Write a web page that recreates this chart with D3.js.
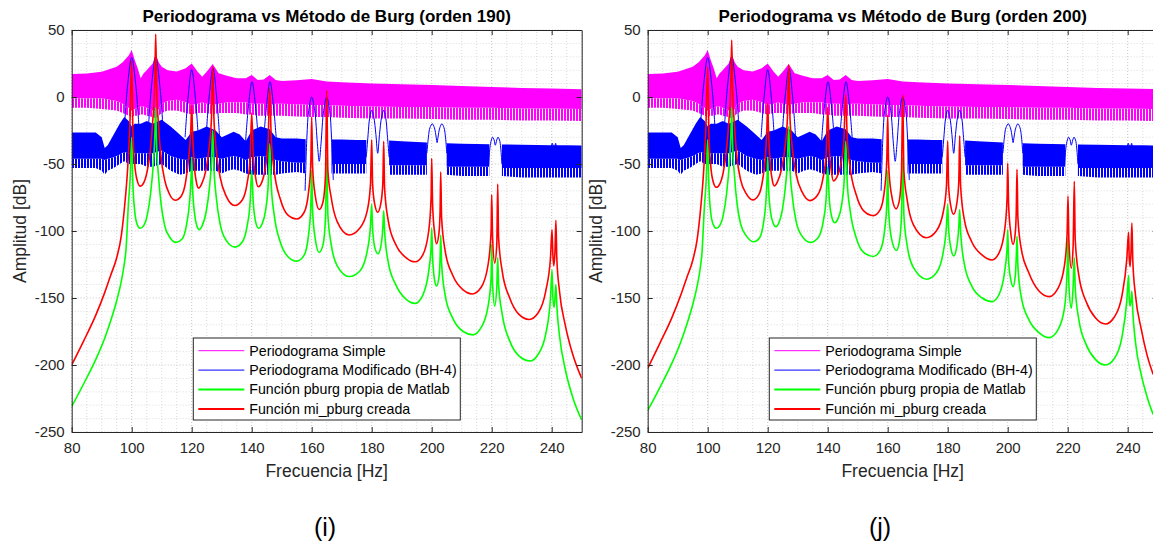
<!DOCTYPE html>
<html>
<head>
<meta charset="utf-8">
<script src="https://cdn.jsdelivr.net/npm/d3@7"></script>
<style>
  body { margin: 0; background: #fff; }
  svg { display: block; }
  text { font-family: "Liberation Sans", Arial, Helvetica, sans-serif; }
</style>
</head>
<body>
<svg id="chart" width="1153" height="544"></svg>
<script>
// ---- tick values ----
const xTicks = [80, 100, 120, 140, 160, 180, 200, 220, 240];
const yTicks = [50, 0, -50, -100, -150, -200, -250];

// ---- periodograma simple (envelope of the dense trace) ----
const magFreq = [80,85,90,95,97,99,100,101,102,103,104,105,107,108,109,110,112,115,118,120,122,123.5,125,127,129,132,135,138,140,142,144,146,148,150,155,160,165,170,180,190,200,210,220,230,240,250];
const magTop = [17.2,17.5,18.9,22.6,26,31,35,27.6,21.4,14,17.7,20,25,32,26,22.6,20,19,21.4,25,18.9,15.2,18.9,24.6,17.7,15.7,14,14,16.4,12.7,13,16.4,12.7,12,12.5,13.5,11.5,11,10,9.5,9,8.2,7.4,6.8,6.4,5.8];
const magSolid = [-1,-1,-1,-3,-5,-8,-10,-9,-8,-7,-7,-8,-10,-11,-9,-5,-3,-2,-4,-6,-5,-4,-5,-6,-5,-4,-4,-4,-5,-5,-5,-6,-5,-5,-5.5,-6,-6,-6.5,-7,-7.5,-7.5,-8,-8,-8.5,-8.5,-9];
const magFringe = [-8,-8,-9,-10,-12,-14,-15,-14,-14,-13,-13,-14,-15,-16,-14,-12,-10,-10,-12,-13,-12,-12,-12,-13,-12,-12,-12,-13,-13,-14,-14,-14,-14,-14,-14.5,-15,-15,-15.5,-16,-16,-16.5,-17,-17,-17.5,-17.5,-18];

// ---- periodograma modificado (BH-4): noise band envelope + main lobes ----
const blueFreq = [80,88,90,91,92,94,96,97.5,99,100,101,103,105,107,110,113,116,118,120,122,125,128,130,132,134,136,138,140,143,146,148,150,155,158,158.1,166.6,170,175,178.2,178.3,185.8,190,195,198.4,198.5,205,210,215,219.2,219.3,223.4,230,235,240,245,250];
const blueTop = [-26.5,-26.5,-30,-38,-36,-28,-20,-15,-18,-22,-20,-20,-18,-20,-17,-22,-28,-32,-26,-25,-22,-25,-30,-28,-26,-28,-33,-25,-22,-24,-30,-31,-31,-31.5,null,-31.7,-31.8,-32,-32,null,-32.5,-33,-33.5,-34,null,-34.5,-34.8,-35,-35.2,null,-35.5,-35.6,-35.8,-36,-36,-36.2];
const blueSolid = [-46,-46,-46,-47,-46,-45,-43,-41,-42,-42,-42,-42,-42,-42,-40,-44,-46,-47,-45,-46,-45,-45,-46,-45,-44,-45,-47,-45,-44,-45,-47,-48,-49,-49,null,-50,-50,-50,-50,null,-51,-51,-51,-51,null,-52,-52,-52,-52,null,-53,-53,-53,-53,-53,-53];
const blueFringe = [-53,-53,-55,-58,-55,-53,-50,-48,-50,-50,-50,-50,-52,-52,-50,-55,-58,-57,-55,-55,-55,-55,-57,-55,-54,-55,-57,-58,-58,-58,-58,-57,-56,-57,null,-57,-57,-57,-57,null,-58,-58,-58,-58,null,-58,-59,-59,-59,null,-59,-60,-60,-60,-60,-60];
const blueLobes = [
  [[97.6,-22],[98.6,8],[100,29.5],[101.4,8],[102.4,-22]],
  [[105.6,-22],[106.6,8],[108,30],[109.4,8],[110.4,-22]],
  [[117.8,-30],[118.8,0],[120,20.5],[121.2,0],[122.2,-30]],
  [[124.8,-30],[125.8,0],[127.1,21.5],[128.3,0],[129.3,-30]],
  [[137.8,-38],[138.8,-10],[140.1,11.5],[141.4,-10],[142.4,-38]],
  [[143.8,-38],[144.8,-10],[146.1,11.5],[147.4,-10],[148.4,-38]],
  [[157.8,-70],[158.4,-30],[159,-10],[160,0],[161,-10],[161.9,-35],[162.5,-48],[163.1,-35],[164,-10],[165,0],[166,-10],[166.6,-30],[167.2,-62]],
  [[178.2,-45],[178.8,-28],[179.3,-16],[180,-10],[180.7,-15],[181.4,-28],[182,-42],[182.6,-28],[183.3,-15],[184,-10],[184.7,-16],[185.2,-28],[185.8,-45]],
  [[198.4,-42],[198.9,-30],[199.4,-23],[200.2,-20],[200.9,-23],[201.5,-30],[201.8,-34],[202.1,-30],[202.7,-23],[203.4,-20],[204.1,-23],[204.6,-30],[205,-42]],
  [[219,-50],[219.4,-38],[219.9,-32],[220.3,-30],[220.8,-32],[221.2,-36],[221.7,-32],[222.1,-30],[222.6,-32],[223,-38],[223.4,-50]],
  [[239.5,-45],[239.8,-38],[240.2,-34.5],[240.6,-38],[240.8,-40],[241,-38],[241.3,-34.5],[241.6,-38],[241.9,-45]]
];

// ---- Burg orden 190 ----
const green190 = [[80,-231],[84,-214],[88,-196],[91,-180],[93,-167],[95,-152],[96.5,-138],[97.5,-125],[98.1,-114],[98.9,-80],[99.5,-60],[100,-30],
  [100.4,-65],[101,-85],[101.8,-95],[102.8,-98],[104,-96],[105.2,-88],[106.3,-72],[107.2,-50],[107.7,-30],[108,-8],
  [108.3,-35],[108.9,-58],[109.8,-80],[111,-96],[112.8,-105],[114.8,-108.5],[116.8,-106],[118.3,-95],[119.3,-78],[119.8,-60],[120,-45],
  [120.3,-68],[120.9,-86],[121.7,-96],[122.5,-99],[123.5,-96],[124.8,-86],[125.9,-68],[126.6,-48],[127,-25],
  [127.4,-52],[128.2,-75],[129.5,-95],[131.5,-107],[134.4,-112],[136.9,-108],[138.5,-96],[139.5,-78],[140,-55],
  [140.5,-78],[141.3,-93],[142.3,-98],[143.4,-95],[144.6,-85],[145.5,-65],[146,-35],
  [146.5,-65],[147.5,-88],[149.5,-108],[152,-119],[155,-122.5],[157.5,-118],[159,-102],[159.7,-82],[160,-55],
  [160.3,-85],[161.2,-106],[162.5,-116],[163.8,-110],[164.6,-90],[165,-45],
  [165.4,-88],[166.5,-110],[168.5,-126],[172.5,-134],[176,-130],[178.5,-115],[179.6,-96],[180,-80],
  [180.3,-98],[181,-112],[182.1,-117],[183,-112],[183.7,-98],[184,-85],
  [184.3,-100],[185.5,-123],[188,-140],[191.5,-151],[194.5,-154],[197,-148],[199,-130],[199.8,-112],[200,-98],
  [200.3,-120],[201,-137],[201.6,-141],[202.4,-135],[202.8,-120],[203,-103],
  [203.3,-124],[204.5,-148],[207,-165],[210.5,-175],[213.8,-177.5],[216.5,-172],[218.8,-156],[219.8,-135],[220,-110],
  [220.3,-140],[221,-156],[221.7,-142],[222,-120],
  [222.3,-140],[223.5,-162],[226,-182],[229,-193],[232.8,-197],[235.5,-192],[238,-177],[239.6,-150],[240.1,-129],
  [240.4,-150],[240.8,-157],[241.1,-150],[241.4,-140],
  [241.7,-155],[242.6,-178],[244.5,-203],[247,-224],[250,-241]];
const red190 = [[80,-200],[84,-182],[88,-163],[91,-146],[93,-133],[95,-120],[96.5,-104],[97.7,-80],[98.6,-55],[99.4,-20],[100,27],
  [100.4,-25],[101,-50],[101.8,-62],[102.8,-66.5],[104,-64],[105.2,-55],[106.2,-40],[107.1,-15],[107.7,10],[108,47],
  [108.3,10],[108.9,-20],[109.8,-45],[111,-62],[112.5,-72],[114.5,-77],[116.5,-74],[118,-63],[119,-45],[119.7,-25],[120,-6],
  [120.3,-28],[120.9,-52],[121.7,-65],[122.3,-68],[123.3,-65],[124.7,-55],[125.8,-38],[126.6,-15],[127,22.5],
  [127.4,-15],[128.2,-40],[129.5,-60],[131.5,-74],[134.3,-81],[136.8,-77],[138.5,-64],[139.5,-45],[140,-12],
  [140.5,-42],[141.3,-60],[142.2,-67],[143.3,-64],[144.6,-52],[145.5,-32],[146,7],
  [146.5,-30],[147.5,-55],[149.5,-76],[152,-88],[155,-91],[157.5,-86],[159,-70],[159.7,-50],[160,-15],
  [160.3,-52],[161.2,-74],[162.5,-84],[163.8,-78],[164.6,-58],[165,5],
  [165.4,-55],[166.5,-75],[168.5,-93],[172.5,-103],[176,-98],[178.5,-85],[179.6,-65],[180,-32],
  [180.3,-65],[181,-80],[182,-86],[183,-80],[183.7,-65],[184,-33],
  [184.3,-68],[185.5,-92],[188,-110],[191.5,-120],[194.5,-123],[197,-118],[199,-100],[199.8,-75],[200,-46],
  [200.3,-80],[201,-102],[201.6,-109.5],[202.4,-102],[202.8,-85],[203,-56],
  [203.3,-90],[204.5,-115],[207,-133],[210.5,-144],[213.5,-147],[216.5,-142],[218.8,-125],[219.8,-100],[220,-73],
  [220.3,-105],[221,-124],[221.7,-110],[222,-65],
  [222.3,-105],[223.5,-130],[226,-150],[229,-162],[232.5,-166],[235.5,-161],[238,-145],[239.6,-120],[240.1,-99],
  [240.4,-118],[240.7,-126],[241.1,-115],[241.4,-92],
  [241.7,-120],[242.6,-145],[244.5,-170],[247,-192],[250,-210]];

// ---- Burg orden 200 ----
const green200 = [[80,-234],[84,-217],[88,-199],[91,-183],[93,-170],[95,-155],[96.5,-141],[97.5,-128],[98.1,-116],[98.9,-82],[99.5,-62],[100,-32],
  [100.4,-66],[101,-86],[101.8,-95],[102.9,-98],[104,-96],[105.2,-88],[106.3,-72],[107.2,-50],[107.7,-30],[108,-8],
  [108.3,-35],[108.9,-58],[109.8,-80],[111,-95],[113,-104],[115.3,-108],[117.3,-105],[118.6,-94],[119.4,-78],[119.8,-60],[120,-45],
  [120.3,-68],[120.9,-85],[121.8,-94],[122.7,-96.8],[123.7,-94],[124.9,-84],[125.9,-67],[126.6,-47],[127,-22],
  [127.4,-52],[128.2,-74],[129.5,-93],[131.5,-104],[134.2,-108.5],[136.8,-105],[138.5,-93],[139.5,-75],[140,-52],
  [140.5,-75],[141.3,-89],[142.3,-93.8],[143.4,-91],[144.6,-81],[145.5,-62],[146,-33],
  [146.5,-63],[147.5,-85],[149.5,-105],[152,-116],[155.2,-119],[157.6,-114],[159,-99],[159.7,-80],[160,-55],
  [160.3,-84],[161.2,-105],[162.9,-114.6],[163.9,-108],[164.6,-88],[165,-45],
  [165.4,-88],[166.5,-111],[168.5,-127],[173,-136],[176.3,-131],[178.5,-116],[179.6,-96],[180,-80],
  [180.3,-98],[181,-112],[182,-118.6],[183,-112],[183.7,-97],[184,-84],
  [184.3,-100],[185.5,-124],[188,-141],[191.5,-150],[194.8,-152.7],[197.2,-147],[199,-130],[199.8,-112],[200,-99],
  [200.3,-122],[201,-136],[201.8,-141.5],[202.5,-134],[202.85,-120],[203.1,-104],
  [203.4,-126],[204.5,-149],[207,-166],[210.5,-176],[213.8,-179.6],[216.7,-174],[218.9,-158],[219.8,-130],[220.1,-105],
  [220.4,-140],[221.2,-157.6],[221.8,-142],[222.2,-120],
  [222.5,-142],[223.7,-166],[226.2,-185],[229.3,-196],[232.6,-200],[235.6,-195],[238.1,-179],[239.7,-152],[240.3,-133],
  [240.5,-150],[240.8,-156],[241.1,-152],[241.4,-145],
  [241.7,-160],[242.6,-183],[244.5,-207],[246.5,-224],[248.5,-237]];
const red200 = [[80,-202.5],[84,-184],[88,-165],[91,-148],[93,-135],[95,-122],[96.5,-106],[97.7,-82],[98.6,-57],[99.4,-22],[100,22.6],
  [100.4,-27],[101,-51],[101.8,-63],[102.9,-67.4],[104,-65],[105.2,-56],[106.2,-41],[107.1,-17],[107.7,8],[108,42.5],
  [108.3,8],[108.9,-21],[109.8,-46],[111,-62],[112.8,-72],[115,-76.8],[117,-73],[118.3,-62],[119.2,-45],[119.7,-25],[120,-4.7],
  [120.3,-27],[120.9,-51],[121.6,-63],[122.2,-66.4],[123.2,-63.5],[124.6,-54],[125.8,-37],[126.6,-14],[127,24],
  [127.4,-14],[128.2,-38],[129.5,-58],[131.5,-71],[134.1,-77.3],[136.7,-73],[138.4,-61],[139.5,-42],[140,-7.7],
  [140.5,-38],[141.2,-55],[141.9,-62.7],[143,-60],[144.4,-50],[145.4,-32],[146,1.5],
  [146.5,-30],[147.5,-53],[149.5,-73],[152,-85],[155.2,-88.5],[157.5,-84],[159,-68],[159.7,-47],[160,-13.4],
  [160.3,-50],[161.2,-72],[162.8,-83.5],[163.9,-77],[164.6,-56],[165,1.5],
  [165.4,-55],[166.5,-77],[168.5,-95],[172.9,-105],[176.2,-100],[178.5,-86],[179.6,-66],[180,-32.8],
  [180.3,-66],[181,-81],[182,-87.5],[183,-80],[183.7,-63],[184,-29],
  [184.3,-66],[185.5,-91],[188,-108],[191.5,-118],[194.8,-121.6],[197.2,-116],[199,-99],[199.8,-75],[200,-49.5],
  [200.3,-80],[201,-101],[201.8,-110],[202.5,-102],[202.85,-86],[203.1,-54],
  [203.4,-90],[204.5,-113],[207,-131],[210.5,-145],[213.8,-149],[216.7,-143],[218.9,-126],[219.8,-102],[220.1,-74],
  [220.4,-107],[221.2,-127.8],[221.8,-112],[222.2,-63],
  [222.5,-106],[223.7,-133],[226.2,-153],[229.3,-165],[232.6,-169.4],[235.6,-164],[238.1,-148],[239.7,-121],[240.3,-101],
  [240.5,-120],[240.8,-126.6],[241.1,-116],[241.4,-94],
  [241.7,-122],[242.6,-148],[244.5,-173],[246.5,-193],[248.5,-207]];

const legendLabels = ["Periodograma Simple", "Periodograma Modificado (BH-4)", "Función pburg propia de Matlab", "Función mi_pburg creada"];
const legendColors = ["#ff00ff", "#0000ff", "#00ff00", "#ff0000"];
const legendWidths = [1, 1, 2, 2];

const svg = d3.select("#chart");
const axisColor = "#262626";

// vertical hatching, used for the ragged lower fringe of the dense periodogram traces
const defs = svg.append("defs");
[["hatch-mag", "#ff00ff"], ["hatch-blue", "#0000ff"]].forEach(([id, col]) => {
  const pat = defs.append("pattern").attr("id", id).attr("patternUnits", "userSpaceOnUse")
    .attr("width", 3).attr("height", 10);
  pat.append("rect").attr("width", 2).attr("height", 10).attr("fill", col);
});

const magRows = magFreq.map((f, i) => ({ f, top: magTop[i], solid: magSolid[i], fringe: magFringe[i] }));
const blueRows = blueFreq.map((f, i) => ({ f, top: blueTop[i], solid: blueSolid[i], fringe: blueFringe[i] }));

function drawPanel(p) {
  const x = d3.scaleLinear().domain([80, 250]).range([p.left, p.left + 510]);
  const y = d3.scaleLinear().domain([-250, 50]).range([432, 30]);
  const [x0, x1] = x.range();
  const [y0, y1] = y.range();

  svg.append("clipPath").attr("id", "clip-" + p.id)
    .append("rect").attr("x", x0).attr("y", y1).attr("width", x1 - x0).attr("height", y0 - y1);

  const g = svg.append("g");

  // grid: minor then major
  const minorX = d3.range(80, 251, 5).filter(v => v % 20 !== 0);
  const minorY = d3.range(-250, 51, 10).filter(v => v % 50 !== 0);
  g.append("g").selectAll("line").data(minorX).enter().append("line")
    .attr("x1", d => x(d)).attr("x2", d => x(d)).attr("y1", y0).attr("y2", y1)
    .attr("stroke", "#dcdcdc").attr("stroke-dasharray", "1,2");
  g.append("g").selectAll("line").data(minorY).enter().append("line")
    .attr("x1", x0).attr("x2", x1).attr("y1", d => y(d)).attr("y2", d => y(d))
    .attr("stroke", "#dcdcdc").attr("stroke-dasharray", "1,2");
  g.append("g").selectAll("line").data(xTicks).enter().append("line")
    .attr("x1", d => x(d)).attr("x2", d => x(d)).attr("y1", y0).attr("y2", y1)
    .attr("stroke", "#c4c4c4").attr("stroke-dasharray", "1,2");
  g.append("g").selectAll("line").data(yTicks).enter().append("line")
    .attr("x1", x0).attr("x2", x1).attr("y1", d => y(d)).attr("y2", d => y(d))
    .attr("stroke", "#c4c4c4").attr("stroke-dasharray", "1,2");

  const plot = g.append("g").attr("clip-path", `url(#clip-${p.id})`);

  // periodograma simple
  plot.append("path").datum(magRows)
    .attr("d", d3.area().x(d => x(d.f)).y1(d => y(d.solid)).y0(d => y(d.fringe)))
    .attr("fill", "url(#hatch-mag)");
  plot.append("path").datum(magRows)
    .attr("d", d3.area().x(d => x(d.f)).y1(d => y(d.top)).y0(d => y(d.solid)))
    .attr("fill", "#ff00ff");

  // periodograma modificado
  const def = d => d.top !== null;
  plot.append("path").datum(blueRows)
    .attr("d", d3.area().defined(def).x(d => x(d.f)).y1(d => y(d.solid)).y0(d => y(d.fringe)))
    .attr("fill", "url(#hatch-blue)");
  plot.append("path").datum(blueRows)
    .attr("d", d3.area().defined(def).x(d => x(d.f)).y1(d => y(d.top)).y0(d => y(d.solid)))
    .attr("fill", "#0000ff");
  const lobeLine = d3.line().x(d => x(d[0])).y(d => y(d[1])).curve(d3.curveCatmullRom);
  plot.selectAll(".lobe").data(blueLobes).enter().append("path")
    .attr("d", lobeLine).attr("fill", "none").attr("stroke", "#0000ff").attr("stroke-width", 1);

  // Burg
  const line = d3.line().x(d => x(d[0])).y(d => y(d[1])).curve(d3.curveMonotoneX);
  plot.append("path").datum(p.green).attr("d", line)
    .attr("fill", "none").attr("stroke", "#00ff00").attr("stroke-width", 1.6);
  plot.append("path").datum(p.red).attr("d", line)
    .attr("fill", "none").attr("stroke", "#ff0000").attr("stroke-width", 1.6);

  // axes (ticks pointing inward)
  const fmt = d => String(d);
  const styleAxis = sel => {
    sel.selectAll("path.domain").attr("stroke", axisColor);
    sel.selectAll(".tick line").attr("stroke", axisColor);
    sel.selectAll("text").attr("fill", axisColor).style("font-size", "15px")
      .style("font-family", "'Liberation Sans', Arial, Helvetica, sans-serif");
  };
  g.append("g").attr("transform", `translate(0,${y0})`)
    .call(d3.axisBottom(x).tickValues(xTicks).tickFormat(fmt).tickSizeInner(-5).tickSizeOuter(0).tickPadding(10))
    .call(styleAxis);
  g.append("g").attr("transform", `translate(0,${y1})`)
    .call(d3.axisTop(x).tickValues(xTicks).tickFormat("").tickSizeInner(-5).tickSizeOuter(0))
    .call(styleAxis);
  g.append("g").attr("transform", `translate(${x0},0)`)
    .call(d3.axisLeft(y).tickValues(yTicks).tickFormat(fmt).tickSizeInner(-5).tickSizeOuter(0).tickPadding(7))
    .call(styleAxis);
  g.append("g").attr("transform", `translate(${x1},0)`)
    .call(d3.axisRight(y).tickValues(yTicks).tickFormat("").tickSizeInner(-5).tickSizeOuter(0))
    .call(styleAxis);

  // titles and labels
  const cx = (x0 + x1) / 2;
  svg.append("text").attr("x", cx).attr("y", 22).attr("text-anchor", "middle")
    .style("font-size", "17px").style("font-weight", "bold").attr("fill", "#000").text(p.title);
  svg.append("text").attr("x", cx).attr("y", 477).attr("text-anchor", "middle")
    .style("font-size", "17.5px").attr("fill", axisColor).text("Frecuencia [Hz]");
  svg.append("text").attr("transform", `translate(${x0 - 46},${(y0 + y1) / 2}) rotate(-90)`)
    .attr("text-anchor", "middle").style("font-size", "17.5px").attr("fill", axisColor).text("Amplitud [dB]");
  svg.append("text").attr("x", p.captionX).attr("y", 536).attr("text-anchor", "middle")
    .style("font-size", "25px").attr("fill", "#000").text(p.caption);

  // legend
  const lx = x0 + 121.6, ly = 338;
  const lg = svg.append("g").attr("transform", `translate(${lx},${ly})`);
  lg.append("rect").attr("width", 267).attr("height", 82)
    .attr("fill", "#fff").attr("stroke", axisColor).attr("stroke-width", 1);
  legendLabels.forEach((lab, i) => {
    const yy = 12.7 + i * 19.4;
    lg.append("line").attr("x1", 5).attr("x2", 51).attr("y1", yy).attr("y2", yy)
      .attr("stroke", legendColors[i]).attr("stroke-width", legendWidths[i]);
    lg.append("text").attr("x", 56).attr("y", yy).attr("dy", "0.35em")
      .style("font-size", "14.2px").attr("fill", "#000").text(lab);
  });
}

drawPanel({ id: "a", left: 71.7, title: "Periodograma vs Método de Burg (orden 190)", green: green190, red: red190, caption: "(i)", captionX: 325 });
drawPanel({ id: "b", left: 647.7, title: "Periodograma vs Método de Burg (orden 200)", green: green200, red: red200, caption: "(j)", captionX: 880 });
</script>
</body>
</html>
